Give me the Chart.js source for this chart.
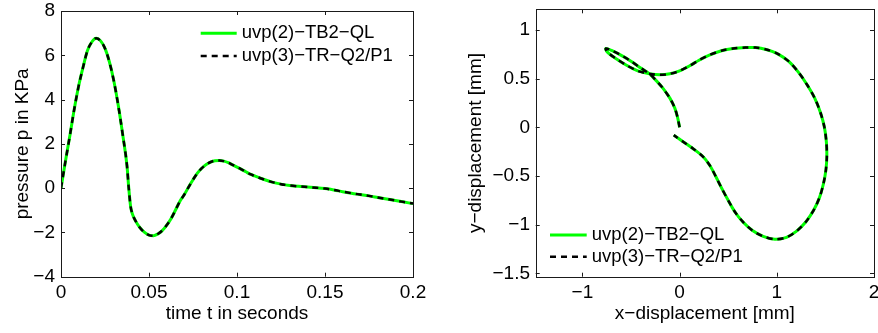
<!DOCTYPE html>
<html>
<head>
<meta charset="utf-8">
<script src="https://cdn.jsdelivr.net/npm/chart.js@4"></script>
<style>
  html, body { margin: 0; padding: 0; background: #fff; overflow: hidden; }
  body { width: 878px; height: 333px; position: relative; }
  .box { position: absolute; top: 0; height: 333px; }
</style>
</head>
<body>
<div class="box" style="left:0;width:440px"><canvas id="pressure"></canvas></div>
<div class="box" style="left:440px;width:460px"><canvas id="path"></canvas></div>
<script>
// left plot: pressure over time (both runs lie on top of each other)
const timeS = [0, 0.0025, 0.005, 0.0075, 0.01, 0.0125, 0.015, 0.0175, 0.02, 0.0225, 0.025, 0.0275, 0.03, 0.0325, 0.035,
  0.0375, 0.0385, 0.0395, 0.0405, 0.0425, 0.045, 0.0475, 0.05, 0.0525, 0.055, 0.0575, 0.06, 0.0625, 0.065, 0.0675, 0.07,
  0.0725, 0.075, 0.0775, 0.08, 0.0825, 0.085, 0.0875, 0.09, 0.0925, 0.095, 0.0975, 0.1, 0.1025, 0.105, 0.1075, 0.11,
  0.115, 0.12, 0.125, 0.13, 0.135, 0.14, 0.145, 0.15, 0.155, 0.16, 0.165, 0.17, 0.175, 0.18, 0.185, 0.19, 0.195, 0.2];
const pressureKPa = [0, 1.2, 2.35, 3.55, 4.6, 5.45, 6.2, 6.6, 6.77, 6.65, 6.31, 5.7, 4.85, 3.75, 2.45,
  1.0, 0.0, -0.8, -1.15, -1.5, -1.8, -2.0, -2.12, -2.15, -2.07, -1.92, -1.68, -1.38, -1.0, -0.6, -0.3,
  0.05, 0.38, 0.68, 0.9, 1.07, 1.18, 1.24, 1.25, 1.22, 1.15, 1.05, 0.95, 0.85, 0.74, 0.63, 0.55,
  0.4, 0.27, 0.18, 0.12, 0.08, 0.05, 0.02, -0.02, -0.08, -0.16, -0.23, -0.29, -0.35, -0.42, -0.49, -0.56, -0.63, -0.7];

// right plot: displacement path
const xDisp = [0, -0.02, -0.05, -0.1, -0.17, -0.24, -0.31, -0.4, -0.5, -0.6, -0.7, -0.76, -0.74, -0.66, -0.55, -0.43,
  -0.31, -0.2, -0.1, 0, 0.1, 0.2, 0.3, 0.44, 0.55, 0.68, 0.78, 0.89, 1.0, 1.12, 1.22, 1.31, 1.39, 1.45, 1.49, 1.51,
  1.515, 1.505, 1.48, 1.44, 1.38, 1.3, 1.2, 1.1, 0.98, 0.86, 0.75, 0.65, 0.57, 0.5, 0.43, 0.37, 0.31, 0.24, 0.14, 0.04, -0.06];
const yDisp = [0, 0.1, 0.2, 0.3, 0.4, 0.48, 0.55, 0.61, 0.68, 0.74, 0.79, 0.81, 0.77, 0.71, 0.64, 0.58,
  0.55, 0.54, 0.55, 0.58, 0.63, 0.69, 0.74, 0.79, 0.81, 0.82, 0.82, 0.8, 0.76, 0.68, 0.57, 0.44, 0.3, 0.15, 0.0, -0.15,
  -0.3, -0.44, -0.58, -0.72, -0.85, -0.97, -1.07, -1.13, -1.15, -1.12, -1.06, -0.97, -0.87, -0.75, -0.62, -0.5, -0.39, -0.3, -0.22, -0.15, -0.08];

const seriesNames = ['uvp(2)\u2212TB2\u2212QL', 'uvp(3)\u2212TR\u2212Q2/P1'];

const tTicks = [0, 0.05, 0.1, 0.15, 0.2];
const pTicks = [-4, -2, 0, 2, 4, 6, 8];
const xdTicks = [-1, 0, 1, 2];
const ydTicks = [-1.5, -1, -0.5, 0, 0.5, 1];

const FONT = "'Liberation Sans', Arial, Helvetica, sans-serif";
const INK = '#000';

// box round the plot area + small ticks pointing inwards (matlab look)
const matlabFrame = {
  id: 'matlabFrame',
  afterDatasetsDraw(chart) {
    const { ctx, chartArea: a, scales: { x, y } } = chart;
    const L = 4;
    ctx.save();
    ctx.strokeStyle = '#1a1a1a';
    ctx.lineWidth = 1;
    ctx.setLineDash([]);
    ctx.strokeRect(Math.round(a.left) + 0.5, Math.round(a.top) + 0.5,
      Math.round(a.right) - Math.round(a.left), Math.round(a.bottom) - Math.round(a.top));
    ctx.beginPath();
    x.ticks.forEach(t => {
      const px = Math.round(x.getPixelForValue(t.value)) + 0.5;
      ctx.moveTo(px, a.bottom); ctx.lineTo(px, a.bottom - L);
      ctx.moveTo(px, a.top); ctx.lineTo(px, a.top + L);
    });
    y.ticks.forEach(t => {
      const py = Math.round(y.getPixelForValue(t.value)) + 0.5;
      ctx.moveTo(a.left, py); ctx.lineTo(a.left + L, py);
      ctx.moveTo(a.right, py); ctx.lineTo(a.right - L, py);
    });
    ctx.stroke();
    ctx.restore();
  }
};

// legend without a box, inside the plot area
const lineLegend = {
  id: 'lineLegend',
  afterDraw(chart, args, opts) {
    const { ctx, chartArea: a } = chart;
    ctx.save();
    ctx.font = opts.size + 'px ' + FONT;
    ctx.textBaseline = 'middle';
    ctx.textAlign = 'left';
    chart.data.datasets.forEach((ds, i) => {
      const x0 = a.left + opts.left;
      const y0 = a.top + opts.top + i * opts.gap;
      ctx.strokeStyle = ds.borderColor;
      ctx.lineWidth = ds.borderWidth;
      ctx.setLineDash(ds.borderDash || []);
      ctx.beginPath();
      ctx.moveTo(x0, y0);
      ctx.lineTo(x0 + opts.len, y0);
      ctx.stroke();
      ctx.setLineDash([]);
      ctx.fillStyle = INK;
      ctx.fillText(ds.label, x0 + opts.len + 5, y0);
    });
    ctx.restore();
  }
};

function fmt(v) {
  return String(v).replace('-', '\u2212');
}

function axis(min, max, ticks, title, opt) {
  return {
    type: 'linear',
    min: min,
    max: max,
    grid: { display: false, drawTicks: false },
    border: { display: false },
    ticks: {
      color: INK,
      font: { family: FONT, size: 19 },
      padding: opt.tickPad,
      maxRotation: 0,
      autoSkip: false,
      callback: fmt
    },
    title: {
      display: true,
      text: title,
      color: INK,
      font: { family: FONT, size: 19 },
      padding: opt.titlePad
    },
    afterBuildTicks: s => { s.ticks = ticks.map(v => ({ value: v })); },
    afterFit: s => {
      if (opt.width) s.width = opt.width;
      if (opt.height) s.height = opt.height;
      s.paddingTop = 0; s.paddingBottom = 0;
      s.paddingLeft = 0; s.paddingRight = 0;
    }
  };
}

function makeSets(xs, ys, smooth) {
  const pts = xs.map((v, i) => ({ x: v, y: ys[i] }));
  const common = { data: pts, showLine: true, pointRadius: 0, pointHoverRadius: 0, fill: false };
  Object.assign(common, smooth);
  return [
    Object.assign({}, common, { label: seriesNames[0], borderColor: 'rgb(0,255,0)', borderWidth: 3, order: 1 }),
    Object.assign({}, common, { label: seriesNames[1], borderColor: '#000', borderWidth: 2.5, borderDash: [6, 5], order: 0 })
  ];
}

const baseOptions = {
  responsive: true,
  maintainAspectRatio: false,
  animation: false,
  events: [],
  plugins: { legend: { display: false }, tooltip: { enabled: false } }
};

new Chart(document.getElementById('pressure'), {
  type: 'scatter',
  data: { datasets: makeSets(timeS, pressureKPa, { cubicInterpolationMode: 'monotone' }) },
  options: Object.assign({}, baseOptions, {
    layout: { padding: { top: 11, right: 27, left: 0, bottom: 0 } },
    scales: {
      x: axis(0, 0.2, tTicks, 'time t in seconds', { tickPad: 4.3, titlePad: { top: 0, bottom: 7.9 }, height: 56.3 }),
      y: axis(-4, 8, pTicks, 'pressure p in KPa', { tickPad: 6, titlePad: { top: 11.5, bottom: 0 }, width: 61 })
    },
    plugins: Object.assign({}, baseOptions.plugins, {
      lineLegend: { left: 139.7, top: 22.3, gap: 22.7, len: 36, size: 18.5 }
    })
  }),
  plugins: [matlabFrame, lineLegend]
});

new Chart(document.getElementById('path'), {
  type: 'scatter',
  data: { datasets: makeSets(xDisp, yDisp, { tension: 0.3 }) },
  options: Object.assign({}, baseOptions, {
    layout: { padding: { top: 9.3, right: 26, left: 0, bottom: 0 } },
    scales: {
      x: axis(-1.48, 2, xdTicks, 'x\u2212displacement [mm]', { tickPad: 4.3, titlePad: { top: 0, bottom: 7.9 }, height: 56.3 }),
      y: axis(-1.535, 1.213, ydTicks, 'y\u2212displacement [mm]', { tickPad: 5.7, titlePad: { top: 24.7, bottom: 0 }, width: 95.7 })
    },
    plugins: Object.assign({}, baseOptions.plugins, {
      lineLegend: { left: 14.3, top: 225.7, gap: 21.7, len: 36.7, size: 18.5 }
    })
  }),
  plugins: [matlabFrame, lineLegend]
});
</script>
</body>
</html>
